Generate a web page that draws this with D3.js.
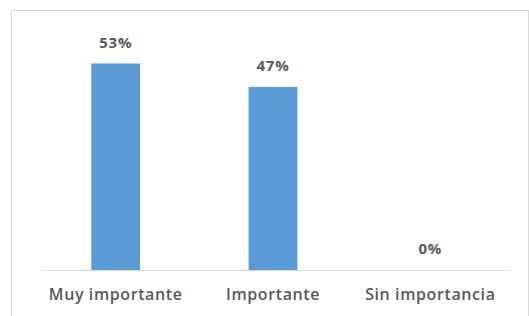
<!DOCTYPE html>
<html>
<head>
<meta charset="utf-8">
<script src="https://cdn.jsdelivr.net/npm/d3@7.9.0/dist/d3.min.js"></script>
<style>
  html, body { margin: 0; padding: 0; background: #fff; }
  svg { display: block; }
</style>
</head>
<body>
<svg id="chart"></svg>
<script>
// data
const categories = ["Muy importante", "Importante", "Sin importancia"];
const values = [53, 47, 0];

const width = 529, height = 316;
const svg = d3.select("#chart")
  .attr("width", width)
  .attr("height", height);

// chart frame
svg.append("rect")
  .attr("x", 11.5).attr("y", 10.5)
  .attr("width", 517).attr("height", 320)
  .attr("fill", "#fff")
  .attr("stroke", "#d9d9d9")
  .attr("stroke-width", 1);

const x = d3.scaleBand()
  .domain(categories)
  .range([37, 509])
  .paddingInner(0.69)
  .paddingOuter(0.345);

const y = d3.scaleLinear()
  .domain([0, 53])
  .range([270, 63.5]);

// baseline
svg.append("line")
  .attr("x1", 42).attr("x2", 510)
  .attr("y1", y(0) + 0.5).attr("y2", y(0) + 0.5)
  .attr("stroke", "#d9d9d9")
  .attr("stroke-width", 1);

svg.selectAll("rect.bar")
  .data(values)
  .enter()
  .append("rect")
  .attr("class", "bar")
  .attr("x", (d, i) => x(categories[i]))
  .attr("width", x.bandwidth())
  .attr("y", d => y(d))
  .attr("height", d => y(0) - y(d))
  .attr("fill", "#5b9bd5");

// value labels
svg.selectAll("text.val")
  .data(values)
  .enter()
  .append("text")
  .attr("class", "val")
  .attr("x", (d, i) => x(categories[i]) + x.bandwidth() / 2)
  .attr("y", d => y(d) - 16)
  .attr("text-anchor", "middle")
  .attr("font-family", "'Open Sans', sans-serif")
  .attr("font-size", "15px")
  .attr("font-weight", "bold")
  .attr("letter-spacing", "0.8px")
  .attr("fill", "#595959")
  .text(d => d + "%");

// category labels
svg.selectAll("text.cat")
  .data(categories)
  .enter()
  .append("text")
  .attr("class", "cat")
  .attr("x", d => x(d) + x.bandwidth() / 2)
  .attr("y", 300)
  .attr("text-anchor", "middle")
  .attr("font-family", "'Open Sans', sans-serif")
  .attr("font-size", "16px")
  .attr("font-weight", "600")
  .attr("letter-spacing", "0.6px")
  .attr("fill", "#595959")
  .text(d => d);
</script>
</body>
</html>
